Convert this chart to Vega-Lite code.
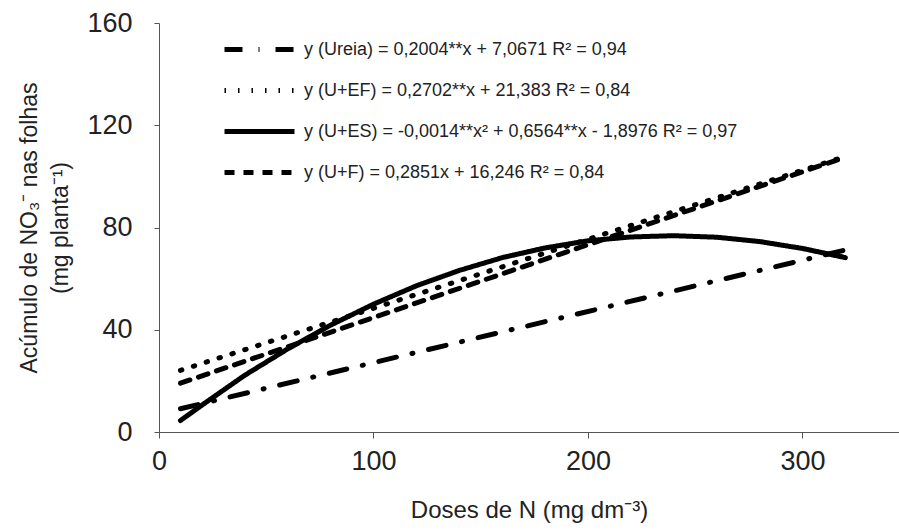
{
  "$schema": "https://vega.github.io/schema/vega-lite/v6.json",
  "width": 740,
  "height": 409,
  "autosize": "none",
  "padding": {"left": 159, "top": 23, "right": 0, "bottom": 98},
  "background": "white",
  "config": {
    "font": "Liberation Sans",
    "view": {"stroke": null},
    "axis": {"grid": false, "domainColor": "#555", "tickColor": "#555", "labelColor": "#222", "titleColor": "#222", "labelFont": "Liberation Sans", "titleFont": "Liberation Sans", "titleFontWeight": "normal"}
  },
  "data": {
    "values": [
      {"serie": "Ureia", "x": 10, "y": 9.1},
      {"serie": "Ureia", "x": 320, "y": 71.2},
      {"serie": "U+EF", "x": 10, "y": 24.1},
      {"serie": "U+EF", "x": 320, "y": 107.8},
      {"serie": "U+ES", "x": 10, "y": 4.5},
      {"serie": "U+ES", "x": 20, "y": 10.5},
      {"serie": "U+ES", "x": 40, "y": 22.2},
      {"serie": "U+ES", "x": 60, "y": 32.5},
      {"serie": "U+ES", "x": 80, "y": 41.8},
      {"serie": "U+ES", "x": 100, "y": 50},
      {"serie": "U+ES", "x": 120, "y": 57.2},
      {"serie": "U+ES", "x": 140, "y": 63.2},
      {"serie": "U+ES", "x": 160, "y": 68.2},
      {"serie": "U+ES", "x": 180, "y": 72},
      {"serie": "U+ES", "x": 200, "y": 74.8},
      {"serie": "U+ES", "x": 220, "y": 76.3},
      {"serie": "U+ES", "x": 240, "y": 76.8},
      {"serie": "U+ES", "x": 260, "y": 76.2},
      {"serie": "U+ES", "x": 280, "y": 74.5},
      {"serie": "U+ES", "x": 300, "y": 71.8},
      {"serie": "U+ES", "x": 320, "y": 68.2},
      {"serie": "U+F", "x": 10, "y": 19.1},
      {"serie": "U+F", "x": 320, "y": 107.5}
    ]
  },
  "mark": {"type": "line", "color": "black", "strokeWidth": 5, "strokeCap": "round", "clip": false},
  "encoding": {
    "x": {
      "field": "x", "type": "quantitative",
      "scale": {"domain": [0, 345], "nice": false, "zero": false},
      "axis": {"values": [0, 100, 200, 300], "title": "Doses de N (mg dm⁻³)", "titleFontSize": 24, "titlePadding": 24, "labelFontSize": 27, "labelPadding": 10, "tickSize": 6, "labelFlush": false}
    },
    "y": {
      "field": "y", "type": "quantitative",
      "scale": {"domain": [0, 160], "nice": false},
      "axis": {"values": [0, 40, 80, 120, 160], "title": ["Acúmulo de NO₃⁻ nas folhas", "(mg planta⁻¹)"], "titleFontSize": 23, "titlePadding": 14, "titleLineHeight": 31, "labelFontSize": 27, "labelPadding": 22, "tickSize": 5}
    },
    "strokeDash": {
      "field": "serie", "type": "nominal",
      "scale": {"domain": ["Ureia", "U+EF", "U+ES", "U+F"], "range": [[18, 16, 1, 16], [1.5, 12], [1, 0], [10, 9]]},
      "legend": {
        "orient": "none", "legendX": 70, "legendY": -4, "title": null,
        "symbolType": "M-1.25,0H1.25", "symbolSize": 3136, "symbolStrokeWidth": 5, "symbolStrokeColor": "black", "symbolFillColor": "transparent",
        "labelFontSize": 18, "labelColor": "#222", "labelLimit": 700, "rowPadding": 0, "labelOffset": 14,
        "labelExpr": "datum.value == 'Ureia' ? 'y (Ureia) = 0,2004**x + 7,0671 R² = 0,94' : datum.value == 'U+EF' ? 'y (U+EF) = 0,2702**x + 21,383 R² = 0,84' : datum.value == 'U+ES' ? 'y (U+ES) = -0,0014**x² + 0,6564**x - 1,8976 R² = 0,97' : 'y (U+F) = 0,2851x + 16,246 R² = 0,84'"
      }
    }
  }
}
